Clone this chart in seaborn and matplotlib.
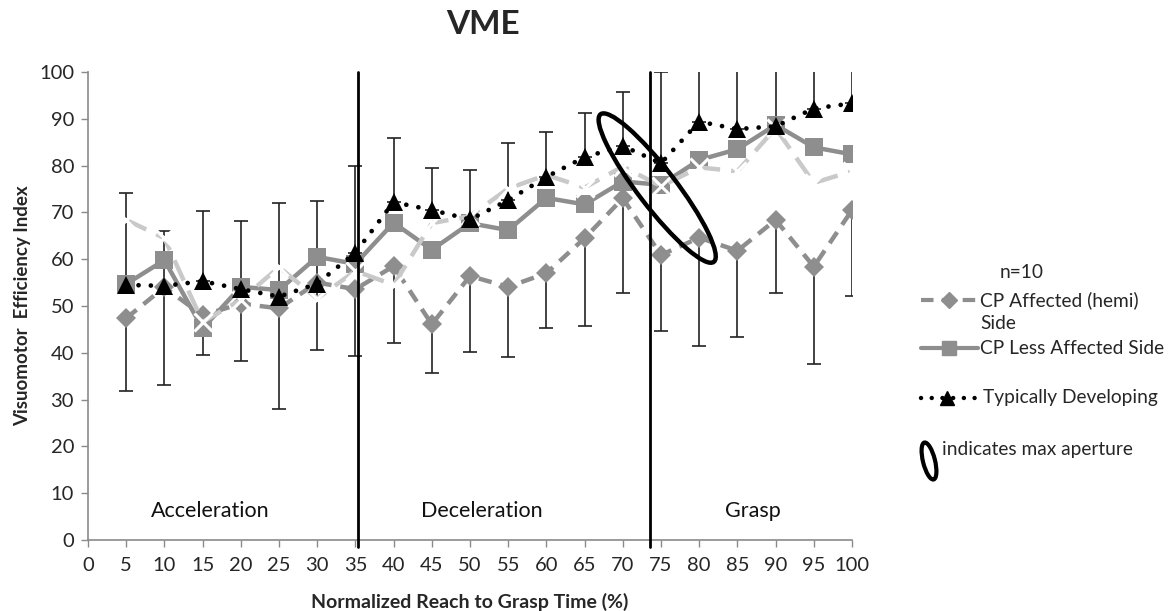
import numpy as np
import pandas as pd
import matplotlib
matplotlib.use("Agg")
import matplotlib.pyplot as plt
from matplotlib.patches import Ellipse
from matplotlib.lines import Line2D
from matplotlib.transforms import ScaledTranslation
import seaborn as sns

# ---- data ----
time_pct = [5, 10, 15, 20, 25, 30, 35, 40, 45, 50, 55, 60, 65, 70, 75, 80, 85, 90, 95, 100]
cp_affected = [47.4, 54.0, 48.0, 50.5, 49.5, 55.0, 53.6, 58.5, 46.1, 56.4, 54.1, 57.0, 64.5, 73.0,
               60.9, 64.6, 61.8, 68.4, 58.4, 70.5]
cp_affected_low = [31.8, 33.1, 39.5, 38.2, 28.0, 40.6, 39.3, 42.0, 35.7, 40.2, 39.1, 45.4, 45.8, 52.7,
                   44.7, 41.5, 43.4, 52.7, 37.6, 52.1]
cp_less = [54.7, 59.8, 45.2, 54.1, 53.4, 60.5, 59.0, 67.8, 62.0, 67.7, 66.2, 73.1, 71.7, 76.6,
           75.9, 81.2, 83.5, 88.7, 83.9, 82.4]
typical = [54.5, 54.3, 55.3, 53.6, 52.0, 54.8, 61.4, 72.2, 70.5, 68.5, 72.6, 77.6, 81.8, 84.2,
           80.5, 89.4, 87.8, 88.4, 92.2, 93.3]
typical_high = [74.1, 66.0, 70.4, 68.2, 72.0, 72.5, 80.0, 86.0, 79.5, 79.0, 84.9, 87.2, 91.2, 95.8,
                100.0, 110.0, 110.0, 110.0, 110.0, 110.0]
other_x = [68.4, 64.5, 46.6, 51.3, 58.3, 51.6, 57.5, 54.5, 67.7, 69.2, 75.1, 78.0, 75.3, 79.8,
           75.6, 79.6, 78.8, 88.0, 76.3, 78.8]
phase_bounds = [35.3, 73.5]
phase_names = ["Acceleration", "Deceleration", "Grasp"]
phase_label_x = [16, 51.5, 87]
x_ticks = list(range(0, 101, 5))
y_ticks = list(range(0, 101, 10))

df = pd.DataFrame({"t": time_pct, "aff": cp_affected, "less": cp_less,
                   "td": typical, "oth": other_x})

sns.set_theme(style="white")
plt.rcParams["font.family"] = ["Lato", "DejaVu Sans"]

fig = plt.figure(figsize=(11.72, 6.11), dpi=100)
ax = fig.add_axes([88 / 1172, 1 - 540 / 611, (852 - 88) / 1172, (540 - 72) / 611])

grey_mid = "#8e8e8e"
grey_light = "#c9c9c9"

sns.lineplot(data=df, x="t", y="less", ax=ax, color=grey_mid, lw=3.2, marker="s",
             markersize=13, markeredgewidth=0, zorder=3)
sns.lineplot(data=df, x="t", y="aff", ax=ax, color=grey_mid, lw=3.2, marker="D",
             markersize=10, markeredgewidth=0, dashes=(3, 2), zorder=4)
sns.lineplot(data=df, x="t", y="oth", ax=ax, color=grey_light, lw=3.2, marker="x",
             markersize=13, markeredgewidth=2.2, dashes=(5, 2.5), zorder=5)
sns.lineplot(data=df, x="t", y="td", ax=ax, color="black", lw=3.4, marker="^",
             markersize=13, markeredgewidth=0, dashes=(0.01, 2.6), zorder=6)
ax.lines[-1].set_dash_capstyle("round")

# error bars
td = np.array(typical)
aff = np.array(cp_affected)
ax.errorbar(time_pct, td, yerr=[np.zeros_like(td), np.array(typical_high) - td],
            fmt="none", ecolor="#222222", elinewidth=1.2, capsize=5, capthick=1.2, zorder=2)
ax.errorbar(time_pct, aff, yerr=[aff - np.array(cp_affected_low), np.zeros_like(aff)],
            fmt="none", ecolor="#222222", elinewidth=1.2, capsize=5, capthick=1.2, zorder=2)

# phase dividers
for xb in phase_bounds:
    ax.plot([xb, xb], [-1.5, 100], color="black", lw=2, clip_on=False, zorder=7)
for name, xl in zip(phase_names, phase_label_x):
    ax.text(xl, 6.3, name, ha="center", va="center", fontsize=15.5, color="#111111")

# max-aperture ellipse (drawn in inches, centred at a data point)
ell = Ellipse((0, 0), 1.86, 0.38, angle=-52.5, fill=False, lw=3.2, ec="black",
              transform=fig.dpi_scale_trans + ScaledTranslation(74.5, 75.2, ax.transData),
              zorder=8, clip_on=False)
ax.add_artist(ell)

ax.set_xlim(0, 100)
ax.set_ylim(0, 100)
ax.set_xticks(x_ticks)
ax.set_yticks(y_ticks)
ax.tick_params(axis="both", which="major", labelsize=14.5, length=5, width=1,
               color="#8a8a8a", direction="out", bottom=True, left=True)
ax.tick_params(axis="x", pad=7)
ax.tick_params(axis="y", pad=5)
for s in ["top", "right"]:
    ax.spines[s].set_visible(False)
for s in ["left", "bottom"]:
    ax.spines[s].set_color("#8a8a8a")
    ax.spines[s].set_linewidth(1.2)
ax.set_xlabel("Normalized Reach to Grasp Time (%)", fontsize=14, fontweight="bold", labelpad=14)
ax.set_ylabel("Visuomotor  Efficiency Index", fontsize=13.5, fontweight="bold", labelpad=6)
fig.text(483 / 1172, 1 - 24 / 611, "VME", ha="center", va="center", fontsize=24, fontweight="bold")

# manual legend (figure pixel coords)
def fx(px):
    return px / 1172
def fy(py):
    return 1 - py / 611

fs_leg = 13.8
fig.text(fx(1022), fy(272), "n=10", ha="center", va="center", fontsize=fs_leg)
fig.add_artist(Line2D([fx(921), fx(978)], [fy(300), fy(300)], color=grey_mid, lw=3,
                      dashes=(3, 2)))
fig.add_artist(Line2D([fx(949)], [fy(300)], color=grey_mid, marker="D", markersize=8, lw=0))
fig.text(fx(980), fy(300), "CP Affected (hemi)", ha="left", va="center", fontsize=fs_leg)
fig.text(fx(980), fy(323), "Side", ha="left", va="center", fontsize=fs_leg)
fig.add_artist(Line2D([fx(921), fx(978)], [fy(348), fy(348)], color=grey_mid, lw=3))
fig.add_artist(Line2D([fx(949)], [fy(348)], color=grey_mid, marker="s", markersize=10, lw=0))
fig.text(fx(980), fy(348), "CP Less Affected Side", ha="left", va="center", fontsize=fs_leg)
td_handle = Line2D([fx(921), fx(975)], [fy(398), fy(398)], color="black", lw=3.2,
                   dashes=(0.01, 2.4))
td_handle.set_dash_capstyle("round")
fig.add_artist(td_handle)
fig.add_artist(Line2D([fx(947)], [fy(398)], color="black", marker="^", markersize=10, lw=0))
fig.text(fx(983), fy(398), "Typically Developing", ha="left", va="center", fontsize=fs_leg)
fig.add_artist(Ellipse((0, 0), 0.12, 0.38, angle=14, fill=False, lw=3, ec="black",
                       transform=fig.dpi_scale_trans + ScaledTranslation(fx(929), fy(461), fig.transFigure)))
fig.text(fx(942), fy(450), "indicates max aperture", ha="left", va="center", fontsize=fs_leg)

fig.savefig("out.png", dpi=100)
